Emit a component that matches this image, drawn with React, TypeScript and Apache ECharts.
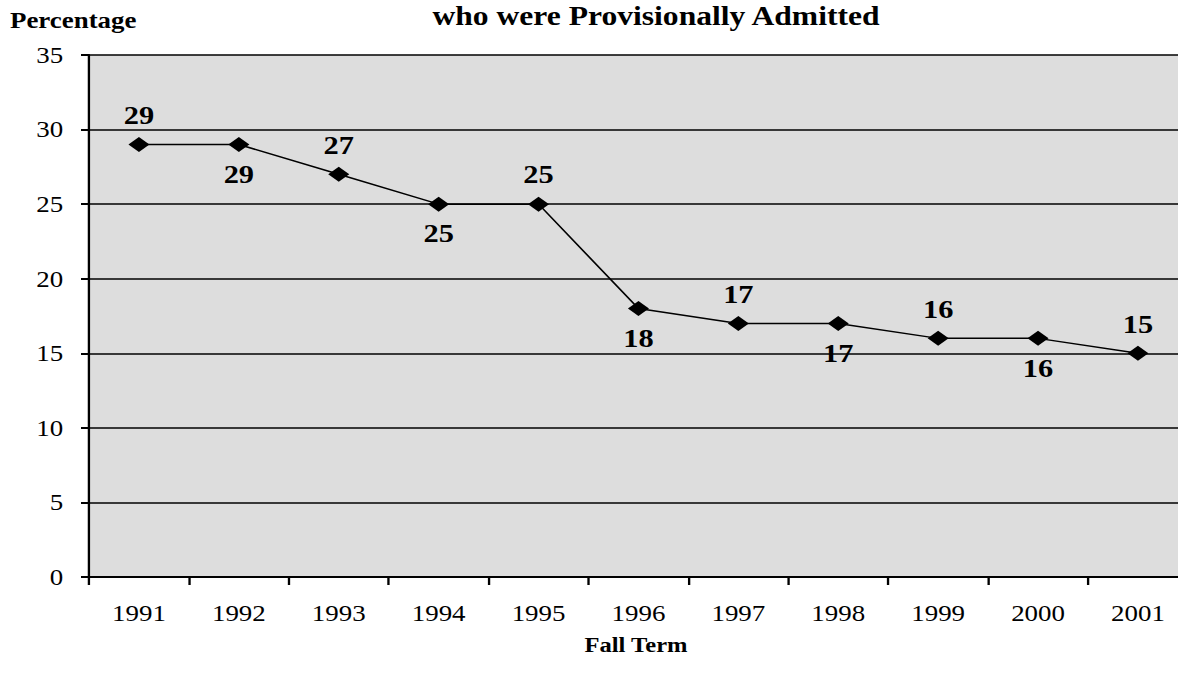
import React, { useEffect, useRef } from "react";
import * as echarts from "echarts";

const years = ["1991", "1992", "1993", "1994", "1995", "1996", "1997", "1998", "1999", "2000", "2001"];
const percentages = [29, 29, 27, 25, 25, 18, 17, 17, 16, 16, 15];
const labelPositions = ["top", "bottom", "top", "bottom", "top", "bottom", "top", "bottom", "top", "bottom", "top"];

const FONT = '"Liberation Serif", "Times New Roman", serif';
const S = 1.17; // horizontal stretch of the reference picture
const FULL_W = 1190;
const H = 683;
const W = FULL_W / S;

export default function App() {
  const ref = useRef<HTMLDivElement>(null);
  useEffect(() => {
    document.body.style.overflow = "hidden";
    const chart = echarts.init(ref.current!, null, { renderer: "svg" });
    chart.setOption({
      animation: false,
      backgroundColor: "#ffffff",
      grid: {
        left: 89 / S,
        right: 2 / S,
        top: 55,
        bottom: H - 577,
        show: true,
        backgroundColor: "#dddddd",
        borderWidth: 0,
      },
      graphic: [
        {
          type: "text",
          x: 10 / S,
          y: 20,
          style: {
            text: "Percentage",
            font: `bold 23px ${FONT}`,
            fill: "#000",
            textVerticalAlign: "middle",
          },
        },
        {
          type: "text",
          x: 656 / S,
          y: 16,
          style: {
            text: "who were Provisionally Admitted",
            font: `bold 27px ${FONT}`,
            fill: "#000",
            textAlign: "center",
            textVerticalAlign: "middle",
          },
        },
        {
          type: "text",
          x: 636 / S,
          y: 645,
          style: {
            text: "Fall Term",
            font: `bold 21px ${FONT}`,
            fill: "#000",
            textAlign: "center",
            textVerticalAlign: "middle",
          },
        },
      ],
      xAxis: {
        type: "category",
        data: years,
        boundaryGap: true,
        axisLine: { show: true, lineStyle: { color: "#000", width: 2 } },
        axisTick: { show: true, interval: 0, length: 8, lineStyle: { color: "#000", width: 2 } },
        axisLabel: { color: "#000", fontFamily: FONT, fontSize: 23, margin: 25, interval: 0 },
        splitLine: { show: false },
      },
      yAxis: {
        type: "value",
        min: 0,
        max: 35,
        interval: 5,
        axisLine: { show: true, lineStyle: { color: "#000", width: 2 } },
        axisTick: { show: true, length: 8 / S, lineStyle: { color: "#000", width: 2 } },
        axisLabel: { color: "#000", fontFamily: FONT, fontSize: 23, margin: 22 },
        splitLine: { show: true, lineStyle: { color: "#000", width: 1.5 } },
      },
      series: [
        {
          type: "line",
          data: percentages.map((v, i) => ({
            value: v,
            label: { position: labelPositions[i] },
          })),
          symbol: "diamond",
          symbolSize: [18, 15],
          itemStyle: { color: "#000" },
          lineStyle: { color: "#000", width: 1.5 },
          label: {
            show: true,
            color: "#000",
            fontFamily: FONT,
            fontWeight: "bold",
            fontSize: 26,
            distance: 9,
          },
        },
      ],
    });
    return () => chart.dispose();
  }, []);
  return (
    <div
      ref={ref}
      style={{
        position: "absolute",
        left: 0,
        top: 0,
        width: W,
        height: H,
        transform: `scaleX(${S})`,
        transformOrigin: "0 0",
      }}
    />
  );
}
